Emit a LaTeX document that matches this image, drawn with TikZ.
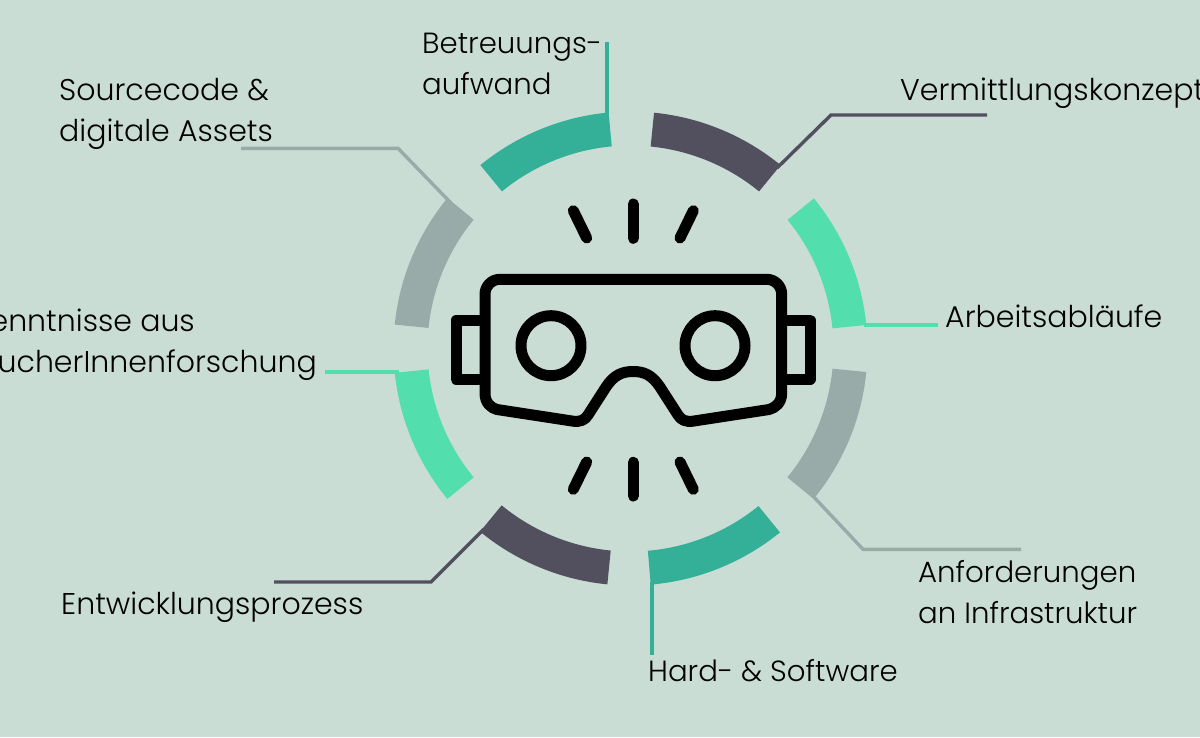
\documentclass[tikz,border=0pt]{standalone}
\usepackage{fontspec}
\setmainfont{Poppins Light}
\definecolor{bgc}{HTML}{C9DDD5}
\definecolor{tealc}{HTML}{33B097}
\definecolor{darkc}{HTML}{52505F}
\definecolor{greenc}{HTML}{52DEAD}
\definecolor{grayc}{HTML}{99ABA8}
\tikzset{
  seg/.style={fill=#1,draw=none},
  leader/.style={draw=#1,line width=3.4pt,line join=miter},
  lbl/.style={anchor=base west,inner sep=0pt,font=\fontsize{30}{41}\selectfont,align=left,text=black},
  lbls/.style={lbl,font=\fontsize{29.2}{41}\selectfont},
  lble/.style={lbl,anchor=base east},
  icon/.style={draw=black,line width=11pt,line join=round,line cap=round}
}
\newcommand{\ringseg}[3]{\fill[seg=#3] (#1:237) arc[start angle=#1,end angle=#2,radius=237] -- (#2:203) arc[start angle=#2,end angle=#1,radius=203] -- cycle;}
\begin{document}
\begin{tikzpicture}[x=1pt,y=-1pt]
\path[use as bounding box] (0,0) rectangle (1200,737);
\clip (0,0) rectangle (1200,737);
\fill[bgc] (0,0) rectangle (1200,737);
% leaders
\coordinate (a1) at (607,42); \coordinate (a2) at (607,116);
\coordinate (b1) at (987,115); \coordinate (b2) at (831,115); \coordinate (b3) at (777,168);
\coordinate (c1) at (864,325); \coordinate (c2) at (938,325);
\coordinate (d1) at (1021,549.3); \coordinate (d2) at (863,549.3); \coordinate (d3) at (811,494);
\coordinate (e1) at (652,582); \coordinate (e2) at (652,655);
\coordinate (f1) at (274,582); \coordinate (f2) at (431,582); \coordinate (f3) at (484,529);
\coordinate (g1) at (325,372); \coordinate (g2) at (399,372);
\coordinate (h1) at (241,148.3); \coordinate (h2) at (398,148.3); \coordinate (h3) at (451,203);
\draw[leader=tealc] (a1) -- (a2);
\draw[leader=darkc] (b1) -- (b2) -- (b3);
\draw[leader=greenc] (c1) -- (c2);
\draw[leader=grayc] (d1) -- (d2) -- (d3);
\draw[leader=tealc] (e1) -- (e2);
\draw[leader=darkc] (f1) -- (f2) -- (f3);
\draw[leader=greenc] (g1) -- (g2);
\draw[leader=grayc] (h1) -- (h2) -- (h3);
% ring (y axis is flipped: angles measured clockwise on the page)
\begin{scope}[shift={(630.5,348.5)}]
\ringseg{-95.3}{-129.3}{tealc}
\ringseg{-84.3}{-50.7}{darkc}
\ringseg{-39.3}{-5.7}{greenc}
\ringseg{5.7}{39.4}{grayc}
\ringseg{85.1}{50.9}{tealc}
\ringseg{95.6}{129.4}{darkc}
\ringseg{174.1}{140.6}{greenc}
\ringseg{-174.2}{-140.6}{grayc}
\end{scope}
% icon
\draw[icon] (485,294.3) arc[start angle=180,end angle=270,radius=15] -- (766.7,279.3) arc[start angle=270,end angle=360,radius=15] -- (781.7,393)
 .. controls (781.7,403) and (775,408) .. (769,409.5) -- (694,421) .. controls (686,422.5) and (681,420) .. (678,415)
 -- (660,387) .. controls (652,375) and (644,371.5) .. (633.3,371.5) .. controls (622,371.5) and (614,375) .. (606,387)
 -- (588,415) .. controls (585,420) and (580,422.5) .. (572,421) -- (497,409.5) .. controls (491,408) and (485,403) .. (485,393) -- cycle;
\draw[icon] (551,345.7) circle[radius=30];
\draw[icon] (715,345.7) circle[radius=30];
\draw[icon,line cap=butt] (485,320.3) -- (456,320.3) -- (456,379.3) -- (485,379.3);
\draw[icon,line cap=butt] (781.7,320.3) -- (810,320.3) -- (810,379.3) -- (781.7,379.3);
\draw[icon] (633.3,204) -- (633.3,238.3);
\draw[icon] (573.3,210.7) -- (586.7,238);
\draw[icon] (693.3,210.7) -- (680,238);
\draw[icon] (633.3,462.3) -- (633.3,496);
\draw[icon] (586.7,462) -- (573.3,489.3);
\draw[icon] (680,462) -- (693.3,489.3);
% labels
\node[lbls] (betr) at (422,94) {Betreuungs-\\aufwand};
\node[lbl] (verm) at (900,100) {Vermittlungskonzept};
\node[lbl] (arb) at (945,327) {Arbeitsabläufe};
\node[lbls] (anf) at (918,623) {Anforderungen\\an Infrastruktur};
\node[lbls] (hard) at (648,681) {Hard- \& Software};
\node[lbl] (entw) at (61,614) {Entwicklungsprozess};
\node[lble] (kenn) at (195,331) {Kenntnisse aus};
\node[lble] (bes) at (317,372) {BesucherInnenforschung};
\node[lbl] (src) at (59,141) {Sourcecode \&\\digitale Assets};
\end{tikzpicture}
\end{document}
